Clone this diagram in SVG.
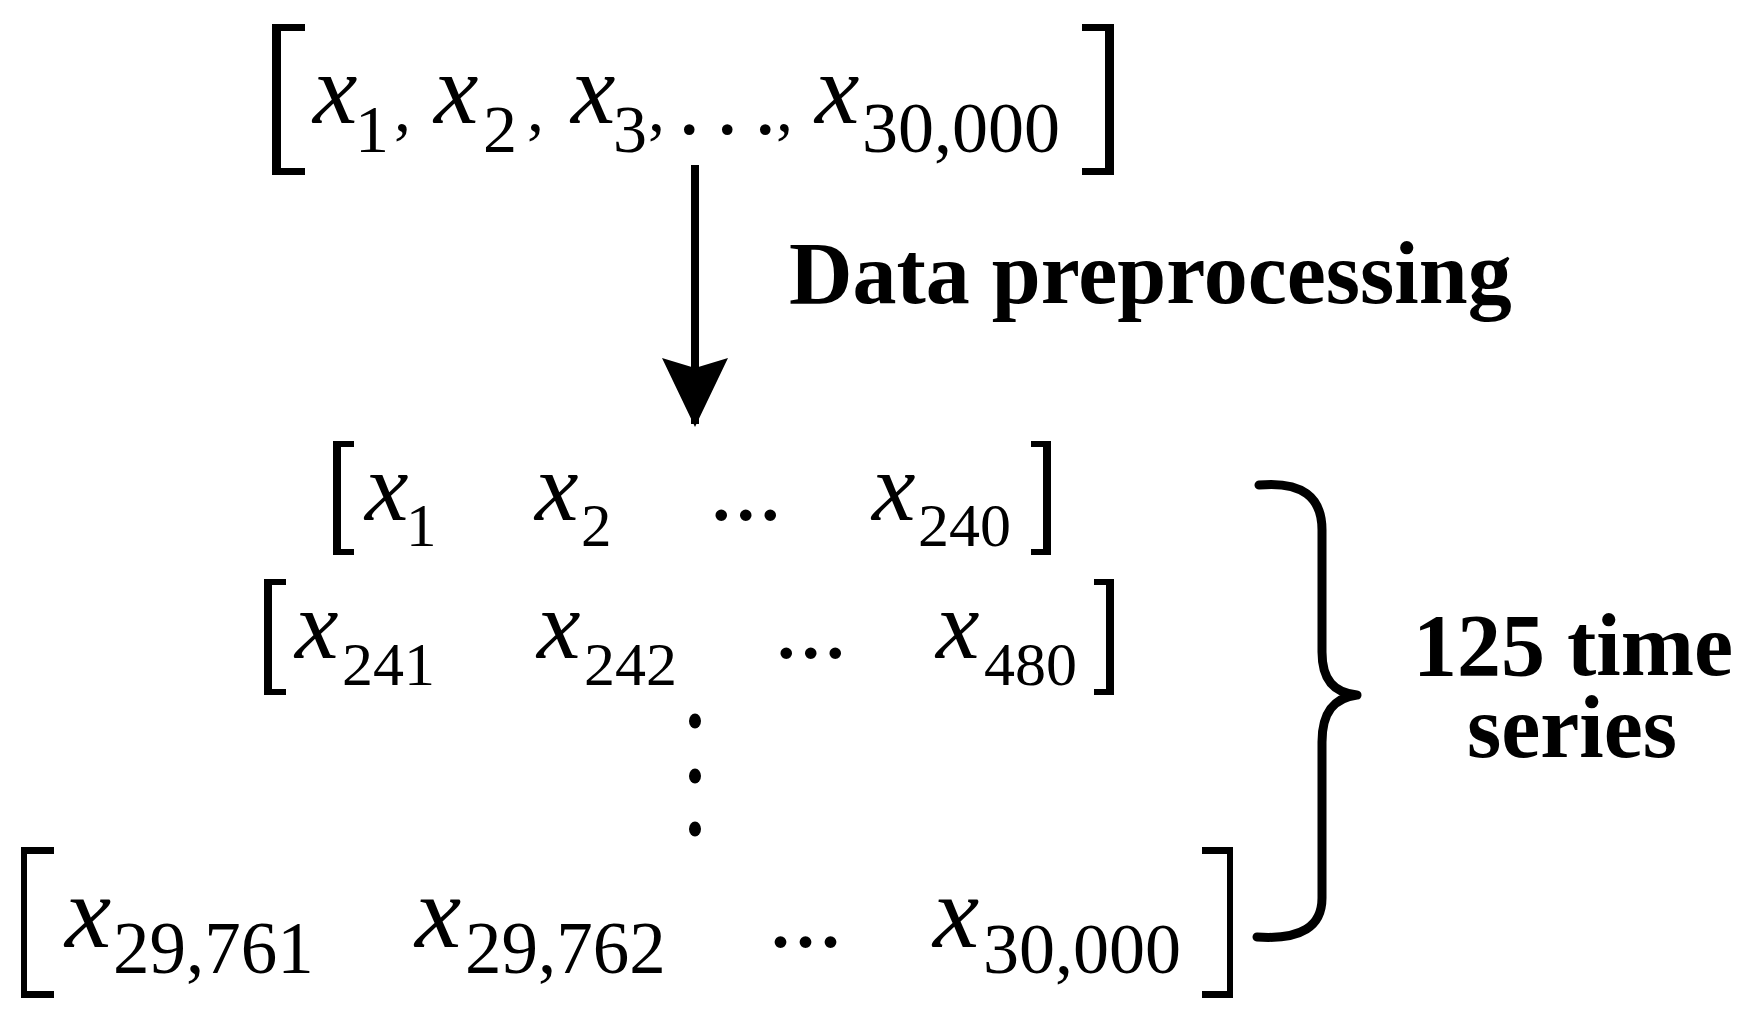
<svg xmlns="http://www.w3.org/2000/svg" width="1749" height="1019" viewBox="0 0 1749 1019">
<style>
  text { font-family: "Liberation Serif", "Times New Roman", serif; fill: #000; }
  .v { font-style: italic; }
  .b { font-weight: bold; font-size: 88px; }
  .br { fill: #000; stroke: none; }
  .brace { fill: none; stroke: #000; stroke-width: 9; stroke-linecap: round; stroke-linejoin: round; }
  .arrow { stroke: #000; stroke-width: 8; fill: none; }
</style>
<defs>
  <marker id="head" markerUnits="userSpaceOnUse" viewBox="0 -33 69 66" markerWidth="69" markerHeight="66" refX="66" refY="0" orient="auto">
    <path d="M0,-33 L69,0 L0,33 L10,0 Z" fill="#000"/>
  </marker>
</defs>
<rect width="1749" height="1019" fill="#fff"/>

<g id="input-sequence">
  <path class="br" d="M272 24 H305 V31 H281 V168 H305 V175 H272 Z"/>
  <path class="br" d="M1114 24 H1082 V31 H1105 V168 H1082 V175 H1114 Z"/>
  <text font-size="100"><tspan class="v" x="313" y="123">x</tspan><tspan x="355" y="152" font-size="68">1</tspan><tspan x="394" y="131" font-size="68">,</tspan><tspan class="v" x="434" y="123">x</tspan><tspan x="483" y="152" font-size="68">2</tspan><tspan x="527" y="131" font-size="68">,</tspan><tspan class="v" x="571" y="123">x</tspan><tspan x="613" y="152" font-size="68">3</tspan><tspan x="648" y="131" font-size="68">,</tspan><tspan x="678 716 754" y="134" font-size="90">...</tspan><tspan x="776" y="131" font-size="68">,</tspan><tspan class="v" x="815" y="123">x</tspan><tspan x="862" y="152" font-size="72">30,000</tspan></text>
</g>

<g id="label-preprocessing">
  <text class="b" x="789" y="303" font-size="88.5">Data preprocessing</text>
</g>

<g id="connectors">
  <line class="arrow" x1="695" y1="165" x2="695" y2="424" marker-end="url(#head)"/>
</g>

<g id="series-1">
  <path class="br" d="M333 441 H354 V447 H341 V549 H354 V555 H333 Z"/>
  <path class="br" d="M1051 441 H1031 V447 H1043 V549 H1031 V555 H1051 Z"/>
  <text font-size="98"><tspan class="v" x="365" y="520">x</tspan><tspan x="406" y="546" font-size="61">1</tspan><tspan class="v" x="535" y="520">x</tspan><tspan x="581" y="546" font-size="61">2</tspan><tspan x="709" y="520">...</tspan><tspan class="v" x="872" y="520">x</tspan><tspan x="918" y="546" font-size="62">240</tspan></text>
</g>

<g id="series-2">
  <path class="br" d="M264 579 H286 V585 H272 V689 H286 V695 H264 Z"/>
  <path class="br" d="M1114 579 H1094 V585 H1106 V689 H1094 V695 H1114 Z"/>
  <text font-size="98"><tspan class="v" x="295" y="658">x</tspan><tspan x="342" y="685" font-size="62">241</tspan><tspan class="v" x="537" y="658">x</tspan><tspan x="584" y="685" font-size="62">242</tspan><tspan x="774" y="658">...</tspan><tspan class="v" x="936" y="658">x</tspan><tspan x="984" y="685" font-size="62">480</tspan></text>
</g>

<g id="vertical-ellipsis">
  <ellipse cx="695" cy="721" rx="6" ry="7.5"/>
  <ellipse cx="695" cy="776" rx="6" ry="7.5"/>
  <ellipse cx="695" cy="829" rx="6" ry="7.5"/>
</g>

<g id="series-125">
  <path class="br" d="M21 847 H54 V854 H27 V991 H54 V998 H21 Z"/>
  <path class="br" d="M1233 847 H1202 V854 H1227 V991 H1202 V998 H1233 Z"/>
  <text font-size="104"><tspan class="v" x="65" y="947">x</tspan><tspan x="113" y="973" font-size="73">29,761</tspan><tspan class="v" x="415" y="947">x</tspan><tspan x="465" y="973" font-size="73">29,762</tspan><tspan x="768" y="947" font-size="100">...</tspan><tspan class="v" x="933" y="947">x</tspan><tspan x="983" y="973" font-size="72">30,000</tspan></text>
</g>

<g id="brace-group">
  <path class="brace" d="M1259 485 C1302 481 1322 497 1322 530 L1322 652 C1322 680 1334 693 1357 695 C1334 698 1322 712 1322 742 L1322 898 C1322 926 1302 940 1257 937"/>
  <text class="b" font-size="87"><tspan x="1413" y="675">125 time</tspan><tspan x="1467" y="757">series</tspan></text>
</g>
</svg>
